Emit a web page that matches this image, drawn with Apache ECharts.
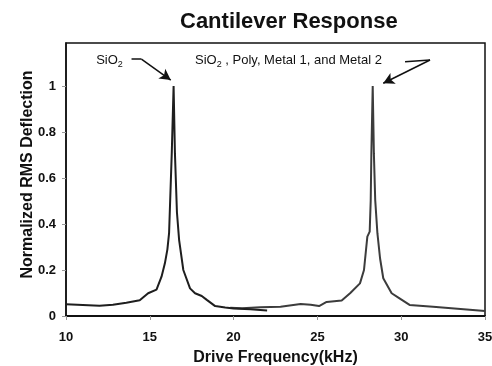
<!DOCTYPE html>
<html>
<head>
<meta charset="utf-8">
<script src="https://cdn.jsdelivr.net/npm/echarts@6/dist/echarts.min.js"></script>
<style>
  html, body { margin: 0; padding: 0; background: #fff; }
  #chart { width: 492px; height: 366px; }
</style>
</head>
<body>
<div id="chart"></div>
<script>
// Resonance sweep: SiO2-only cantilever
const freqSiO2 = [10, 11, 12, 12.8, 13.6, 14.4, 14.9, 15.4, 15.7, 15.9, 16.05, 16.15, 16.31, 16.42, 16.5, 16.62, 16.75, 17.0, 17.4, 17.7, 18.1, 18.4, 18.9, 19.5, 20.0, 21.0, 22.0];
const rmsSiO2  = [0.051, 0.048, 0.045, 0.049, 0.058, 0.068, 0.099, 0.115, 0.171, 0.229, 0.29, 0.36, 0.707, 1.0, 0.707, 0.45, 0.33, 0.2, 0.12, 0.099, 0.087, 0.07, 0.043, 0.037, 0.033, 0.029, 0.024];

// Resonance sweep: SiO2 + Poly + Metal 1 + Metal 2 cantilever
const freqStack = [19.8, 20.5, 21.6, 22.8, 24.0, 24.6, 25.1, 25.55, 26.45, 26.95, 27.54, 27.78, 27.98, 28.12, 28.18, 28.22, 28.3, 28.37, 28.45, 28.58, 28.74, 28.93, 29.43, 29.83, 30.5, 31.9, 35.0];
const rmsStack  = [0.036, 0.034, 0.038, 0.04, 0.052, 0.049, 0.043, 0.061, 0.067, 0.099, 0.142, 0.2, 0.345, 0.367, 0.5, 0.707, 1.0, 0.707, 0.504, 0.36, 0.25, 0.164, 0.099, 0.08, 0.048, 0.04, 0.022];

const xTicks = [10, 15, 20, 25, 30, 35];
const yTicks = [0, 0.2, 0.4, 0.6, 0.8, 1];

const labelSiO2 = '{a|SiO}{s|2}';
const labelStack = '{a|SiO}{s|2}{a| , Poly, Metal 1, and Metal 2}';

const FONT = '"Liberation Sans", Arial, sans-serif';
const pair = (xs, ys) => xs.map((x, i) => [x, ys[i]]);

const richText = {
  a: { fontFamily: FONT, fontSize: 13, color: '#111' },
  s: { fontFamily: FONT, fontSize: 9, color: '#111', padding: [8, 0, 0, 0] }
};

const arrowStyle = { color: '#111', width: 1.5, type: 'solid' };

const chart = echarts.init(document.getElementById('chart'));
chart.setOption({
  animation: false,
  backgroundColor: '#fff',
  title: {
    text: 'Cantilever Response',
    left: 175,
    top: 6,
    textStyle: { fontFamily: FONT, fontSize: 22, fontWeight: 'bold', color: '#111' }
  },
  grid: {
    left: 66, right: 7, top: 43, bottom: 50,
    outerBoundsMode: 'none',
    show: true, borderColor: '#111', borderWidth: 1.5
  },
  xAxis: {
    type: 'value',
    min: xTicks[0], max: xTicks[xTicks.length - 1], interval: 5,
    name: 'Drive Frequency(kHz)',
    nameLocation: 'middle',
    nameGap: 34,
    nameMoveOverlap: false,
    nameTextStyle: { fontFamily: FONT, fontSize: 16, fontWeight: 'bold', color: '#111' },
    axisLine: { lineStyle: { color: '#111', width: 2 } },
    axisTick: { show: true, length: 4, lineStyle: { color: '#999' } },
    axisLabel: { fontFamily: FONT, fontSize: 13, fontWeight: 'bold', color: '#111', margin: 15 },
    splitLine: { show: false }
  },
  yAxis: {
    type: 'value',
    min: 0, max: 1.187, interval: 0.2,
    name: 'Normalized RMS Deflection',
    nameLocation: 'middle',
    nameGap: 30,
    nameMoveOverlap: false,
    nameTextStyle: { fontFamily: FONT, fontSize: 16, fontWeight: 'bold', color: '#111', padding: [0, 0, 0, 10] },
    axisLine: { show: true, lineStyle: { color: '#111', width: 1.5 } },
    axisTick: { show: true, length: 4, lineStyle: { color: '#999' } },
    axisLabel: {
      fontFamily: FONT, fontSize: 13, fontWeight: 'bold', color: '#111', margin: 10,
      showMaxLabel: false,
      formatter: v => {
        const t = yTicks.find(k => Math.abs(k - v) < 1e-6);
        return t === undefined ? '' : String(t);
      }
    },
    splitLine: { show: false }
  },
  series: [
    {
      name: 'SiO2',
      type: 'line',
      data: pair(freqSiO2, rmsSiO2),
      showSymbol: false,
      lineStyle: { color: '#1e1e1e', width: 2 },
      z: 3,
      markLine: {
        silent: true,
        label: { show: false },
        lineStyle: arrowStyle,
        symbolSize: [9, 11],
        data: [
          [{ coord: [13.91, 1.117], symbol: 'none' }, { coord: [14.5, 1.117], symbol: 'none' }],
          [{ coord: [14.5, 1.117], symbol: 'none' }, { coord: [16.25, 1.026], symbol: 'arrow' }]
        ]
      },
      markPoint: {
        silent: true,
        symbol: 'circle',
        symbolSize: 0,
        data: [{
          coord: [11.8, 1.11],
          label: { show: true, position: 'right', distance: 0, formatter: labelSiO2, rich: richText }
        }]
      }
    },
    {
      name: 'SiO2, Poly, Metal 1, and Metal 2',
      type: 'line',
      data: pair(freqStack, rmsStack),
      showSymbol: false,
      lineStyle: { color: '#3c3c3c', width: 2 },
      z: 2,
      markLine: {
        silent: true,
        label: { show: false },
        lineStyle: arrowStyle,
        symbolSize: [9, 11],
        data: [
          [{ coord: [30.23, 1.106], symbol: 'none' }, { coord: [31.72, 1.113], symbol: 'none' }],
          [{ coord: [31.72, 1.113], symbol: 'none' }, { coord: [28.93, 1.012], symbol: 'arrow' }]
        ]
      },
      markPoint: {
        silent: true,
        symbol: 'circle',
        symbolSize: 0,
        data: [{
          coord: [17.7, 1.11],
          label: { show: true, position: 'right', distance: 0, formatter: labelStack, rich: richText }
        }]
      }
    }
  ]
});
</script>
</body>
</html>
